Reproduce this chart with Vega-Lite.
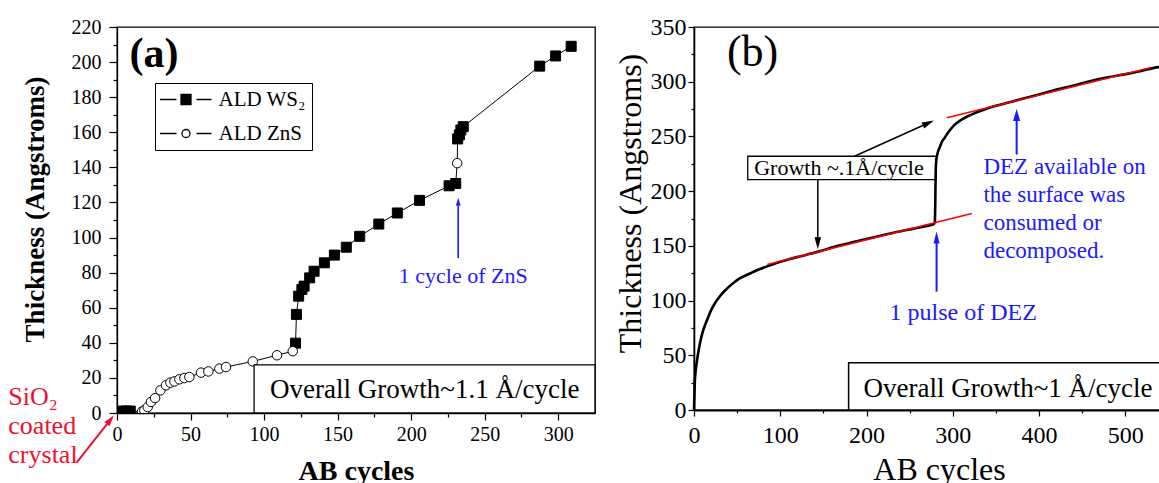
{
  "$schema": "https://vega.github.io/schema/vega-lite/v6.json",
  "background": "white",
  "padding": {"left": 7, "top": 14, "right": 0, "bottom": 0},
  "bounds": "flush",
  "spacing": 99,
  "config": {
    "font": "Liberation Serif",
    "view": {"stroke": "black", "strokeWidth": 1.3},
    "axis": {"domainColor": "black", "tickColor": "black", "labelColor": "black", "titleColor": "black", "grid": false, "labelFont": "Liberation Serif", "titleFont": "Liberation Serif", "labelFlush": false, "labelOverlap": false, "domainWidth": 1.3, "tickWidth": 1.2},
    "text": {"font": "Liberation Serif"}
  },
  "datasets": {
    "blank": [{}],
    "none": [],
    "ab": [
      {"x": 3.5, "y": 1.1, "series": "ALD WS₂"},
      {"x": 6.5, "y": 1.1, "series": "ALD WS₂"},
      {"x": 9, "y": 1.1, "series": "ALD WS₂"},
      {"x": 17, "y": 0.8, "series": "ALD ZnS"},
      {"x": 18.6, "y": 1.5, "series": "ALD ZnS"},
      {"x": 20.9, "y": 3.4, "series": "ALD ZnS"},
      {"x": 23.1, "y": 6.3, "series": "ALD ZnS"},
      {"x": 25.9, "y": 8.5, "series": "ALD ZnS"},
      {"x": 29.5, "y": 12.9, "series": "ALD ZnS"},
      {"x": 33.3, "y": 15.8, "series": "ALD ZnS"},
      {"x": 36.3, "y": 17.3, "series": "ALD ZnS"},
      {"x": 39, "y": 18, "series": "ALD ZnS"},
      {"x": 42.4, "y": 19.2, "series": "ALD ZnS"},
      {"x": 45.8, "y": 19.9, "series": "ALD ZnS"},
      {"x": 49.2, "y": 20.5, "series": "ALD ZnS"},
      {"x": 57.1, "y": 23, "series": "ALD ZnS"},
      {"x": 62.1, "y": 23.7, "series": "ALD ZnS"},
      {"x": 69.6, "y": 25.3, "series": "ALD ZnS"},
      {"x": 74.1, "y": 26.2, "series": "ALD ZnS"},
      {"x": 92.3, "y": 29.4, "series": "ALD ZnS"},
      {"x": 108.8, "y": 32.9, "series": "ALD ZnS"},
      {"x": 119.5, "y": 35.2, "series": "ALD ZnS"},
      {"x": 121.4, "y": 39.8, "series": "ALD WS₂"},
      {"x": 122, "y": 56.2, "series": "ALD WS₂"},
      {"x": 123.5, "y": 66.6, "series": "ALD WS₂"},
      {"x": 125.7, "y": 70.4, "series": "ALD WS₂"},
      {"x": 127.2, "y": 72.3, "series": "ALD WS₂"},
      {"x": 131, "y": 77, "series": "ALD WS₂"},
      {"x": 134, "y": 80.8, "series": "ALD WS₂"},
      {"x": 141, "y": 85.6, "series": "ALD WS₂"},
      {"x": 147.8, "y": 90, "series": "ALD WS₂"},
      {"x": 155.9, "y": 94.5, "series": "ALD WS₂"},
      {"x": 165, "y": 100.7, "series": "ALD WS₂"},
      {"x": 178, "y": 107.7, "series": "ALD WS₂"},
      {"x": 190.6, "y": 114, "series": "ALD WS₂"},
      {"x": 205.7, "y": 121.2, "series": "ALD WS₂"},
      {"x": 225.8, "y": 129.5, "series": "ALD WS₂"},
      {"x": 230.3, "y": 130.8, "series": "ALD WS₂"},
      {"x": 231.3, "y": 142.4, "series": "ALD ZnS"},
      {"x": 231.6, "y": 156.2, "series": "ALD WS₂"},
      {"x": 232.8, "y": 158.5, "series": "ALD WS₂"},
      {"x": 233.8, "y": 161.3, "series": "ALD WS₂"},
      {"x": 235.4, "y": 163.2, "series": "ALD WS₂"},
      {"x": 287.4, "y": 197.7, "series": "ALD WS₂"},
      {"x": 298.2, "y": 203.5, "series": "ALD WS₂"},
      {"x": 308.8, "y": 209, "series": "ALD WS₂"}
    ],
    "curve": [
      {"x": 0, "y": 0}, {"x": 0.9, "y": 25}, {"x": 1.6, "y": 33}, {"x": 2.6, "y": 40.3}, {"x": 4, "y": 48},
      {"x": 5.6, "y": 55.5}, {"x": 7.7, "y": 64}, {"x": 9.9, "y": 70.8}, {"x": 13, "y": 78}, {"x": 16.3, "y": 84.5},
      {"x": 20, "y": 91.5}, {"x": 24.9, "y": 98.3}, {"x": 30, "y": 104}, {"x": 35.7, "y": 109}, {"x": 41, "y": 113},
      {"x": 46.4, "y": 116.6}, {"x": 52, "y": 119.8}, {"x": 59.3, "y": 122.7}, {"x": 67, "y": 125.5}, {"x": 76.5, "y": 128.8},
      {"x": 89, "y": 132.5}, {"x": 100, "y": 135.5}, {"x": 110, "y": 137.8}, {"x": 125, "y": 140.8}, {"x": 143, "y": 144.5},
      {"x": 167, "y": 150}, {"x": 190, "y": 154.5}, {"x": 210, "y": 158}, {"x": 229, "y": 161.5}, {"x": 253, "y": 165.5},
      {"x": 267, "y": 167.8}, {"x": 278, "y": 169.8}, {"x": 279.2, "y": 172}, {"x": 279.7, "y": 190}, {"x": 280.1, "y": 215},
      {"x": 280.7, "y": 227}, {"x": 282, "y": 233.5}, {"x": 284.6, "y": 239.5}, {"x": 287, "y": 244.5}, {"x": 290.4, "y": 248.6},
      {"x": 295, "y": 254}, {"x": 302, "y": 260.5}, {"x": 310, "y": 265.3}, {"x": 317.5, "y": 268.6}, {"x": 327, "y": 271.8},
      {"x": 336.8, "y": 274.7}, {"x": 348, "y": 277.5}, {"x": 360, "y": 280}, {"x": 372, "y": 282.5}, {"x": 383, "y": 284.8},
      {"x": 400, "y": 288.3}, {"x": 421.5, "y": 293}, {"x": 440, "y": 296.5}, {"x": 460, "y": 300.6}, {"x": 480, "y": 304},
      {"x": 499, "y": 306.7}, {"x": 515, "y": 309.3}, {"x": 526, "y": 311.3}, {"x": 538, "y": 313.3}, {"x": 541, "y": 313.6}
    ],
    "fits": [
      {"seg": "lower", "x": 85, "y": 133},
      {"seg": "lower", "x": 322, "y": 179.5},
      {"seg": "upper", "x": 293, "y": 267},
      {"seg": "upper", "x": 530, "y": 313}
    ]
  },
  "hconcat": [
    {
      "width": 478,
      "height": 386,
      "data": {"name": "ab"},
      "resolve": {"axis": {"x": "independent", "y": "independent"}},
      "layer": [
        {
          "mark": {"type": "line", "color": "black", "strokeWidth": 1, "clip": true},
          "encoding": {
            "x": {"field": "x", "type": "quantitative", "scale": {"domain": [0, 325], "nice": false, "zero": false},
                  "axis": {"orient": "bottom", "values": [25, 75, 125, 175, 225, 275], "tickSize": 4, "labels": false, "domain": false, "title": null}},
            "y": {"field": "y", "type": "quantitative", "scale": {"domain": [0, 220], "nice": false, "zero": false},
                  "axis": {"orient": "left", "values": [10, 30, 50, 70, 90, 110, 130, 150, 170, 190, 210], "tickSize": 4, "labels": false, "domain": false, "title": null}}
          }
        },
        {
          "transform": [{"filter": "datum.series == 'ALD WS₂'"}],
          "mark": {"type": "point", "shape": "square", "filled": true, "fill": "black", "stroke": "black", "strokeWidth": 1, "size": 100, "opacity": 1, "clip": true},
          "encoding": {
            "x": {"field": "x", "type": "quantitative",
                  "axis": {"orient": "bottom", "values": [0, 50, 100, 150, 200, 250, 300], "tickSize": 7, "labelFontSize": 20, "labelPadding": 4, "title": "AB cycles", "titleFontSize": 28, "titleFontWeight": "bold", "titlePadding": 13}},
            "y": {"field": "y", "type": "quantitative",
                  "axis": {"orient": "left", "values": [0, 20, 40, 60, 80, 100, 120, 140, 160, 180, 200, 220], "tickSize": 8, "labelFontSize": 20, "labelPadding": 8, "title": "Thickness (Angstroms)", "titleFontSize": 27, "titleFontWeight": "bold", "titlePadding": 22, "titleY": 182}}
          }
        },
        {
          "transform": [{"filter": "datum.series == 'ALD ZnS'"}],
          "mark": {"type": "point", "shape": "circle", "filled": true, "fill": "white", "stroke": "black", "strokeWidth": 1, "size": 90, "opacity": 1, "clip": true},
          "encoding": {
            "x": {"field": "x", "type": "quantitative", "axis": null},
            "y": {"field": "y", "type": "quantitative", "axis": null}
          }
        },
        {
          "data": {"name": "none"},
          "mark": {"type": "point", "filled": true, "stroke": "black", "strokeWidth": 1.2, "size": 100, "opacity": 1},
          "encoding": {
            "shape": {"field": "series", "type": "nominal",
                      "scale": {"domain": ["ALD WS₂", "ALD ZnS"], "range": ["M-5.2,0H-1.9M2.1,0H5.1M-1,-1H1V1H-1Z", "M-5.2,0H-1.9M2.1,0H5.1M0.8,0A0.8,0.8,0,1,1,-0.8,0A0.8,0.8,0,1,1,0.8,0Z"]},
                      "legend": {"orient": "none", "legendX": 38, "legendY": 56, "title": null,
                                "strokeColor": "black", "fillColor": "white", "padding": 6,
                                "symbolSize": 100, "symbolStrokeColor": "black", "symbolStrokeWidth": 1.3,
                                "symbolOffset": 14.5, "labelOffset": 22, "labelFont": "Liberation Serif", "labelFontSize": 21, "labelColor": "black",
                                "rowPadding": 12,
                                "encoding": {"symbols": {"stroke": {"value": "black"}, "strokeWidth": {"value": 1.3}}}}},
            "fill": {"field": "series", "type": "nominal",
                     "scale": {"domain": ["ALD WS₂", "ALD ZnS"], "range": ["black", "white"]},
                     "legend": {"orient": "none", "legendX": 38, "legendY": 56, "title": null,
                                "strokeColor": "black", "fillColor": "white", "padding": 6,
                                "symbolSize": 100, "symbolStrokeColor": "black", "symbolStrokeWidth": 1.3,
                                "symbolOffset": 14.5, "labelOffset": 22, "labelFont": "Liberation Serif", "labelFontSize": 21, "labelColor": "black",
                                "rowPadding": 12,
                                "encoding": {"symbols": {"stroke": {"value": "black"}, "strokeWidth": {"value": 1.3}}}}}
          }
        },
        {
          "data": {"name": "blank"},
          "mark": {"type": "rect", "fill": "white", "stroke": "black", "strokeWidth": 1.3},
          "encoding": {"x": {"datum": 93.2, "axis": null}, "x2": {"datum": 325}, "y": {"datum": 0, "axis": null}, "y2": {"datum": 27.4}}
        },
        {
          "data": {"name": "blank"},
          "mark": {"type": "text", "text": "Overall Growth~1.1 Å/cycle", "align": "left", "baseline": "middle", "fontSize": 27, "color": "black"},
          "encoding": {"x": {"datum": 104.1, "axis": null}, "y": {"datum": 13.3, "axis": null}}
        },
        {
          "data": {"name": "blank"},
          "mark": {"type": "text", "text": "(a)", "align": "center", "baseline": "middle", "fontSize": 42, "fontWeight": "bold", "color": "black"},
          "encoding": {"x": {"datum": 25.2, "axis": null}, "y": {"datum": 204.8, "axis": null}}
        },
        {
          "data": {"name": "blank"},
          "mark": {"type": "text", "text": "1 cycle of ZnS", "align": "center", "baseline": "middle", "fontSize": 22, "color": "#1a1aff"},
          "encoding": {"x": {"datum": 235.4, "axis": null}, "y": {"datum": 78.1, "axis": null}}
        },
        {
          "data": {"name": "blank"},
          "mark": {"type": "rule", "color": "#1a1aff", "strokeWidth": 1.6},
          "encoding": {"x": {"datum": 232, "axis": null}, "y": {"datum": 88.3, "axis": null}, "y2": {"datum": 118}}
        },
        {
          "data": {"name": "blank"},
          "mark": {"type": "point", "shape": "M0,-1L0.6,1L-0.6,1Z", "size": 64, "filled": true, "color": "#1a1aff", "opacity": 1},
          "encoding": {"x": {"datum": 232, "axis": null}, "y": {"datum": 120.4, "axis": null}}
        },
        {
          "data": {"name": "blank"},
          "mark": {"type": "text", "text": ["SiO₂", "coated", "crystal"], "align": "left", "baseline": "top", "fontSize": 26, "lineHeight": 29, "color": "#ee1030"},
          "encoding": {"x": {"datum": -73.9, "axis": null}, "y": {"datum": 16.4, "axis": null}}
        },
        {
          "data": {"name": "blank"},
          "mark": {"type": "rule", "color": "#ee1030", "strokeWidth": 2},
          "encoding": {"x": {"datum": -27.5, "axis": null}, "y": {"datum": -28.3, "axis": null}, "x2": {"datum": -4.5}, "y2": {"datum": -3.9}}
        },
        {
          "data": {"name": "blank"},
          "mark": {"type": "point", "shape": "M0,-1L0.6,1L-0.6,1Z", "size": 121, "angle": 38.4, "filled": true, "color": "#ee1030", "opacity": 1},
          "encoding": {"x": {"datum": -4.5, "axis": null}, "y": {"datum": -3.9, "axis": null}}
        }
      ]
    },
    {
      "width": 490,
      "height": 383,
      "resolve": {"axis": {"x": "independent", "y": "independent"}},
      "layer": [
        {
          "data": {"name": "blank"},
          "mark": {"type": "rect", "fill": "white", "stroke": "black", "strokeWidth": 1.3},
          "encoding": {"x": {"datum": 62.3, "axis": null}, "x2": {"datum": 280.7}, "y": {"datum": 210.5, "axis": null}, "y2": {"datum": 231.9}}
        },
        {
          "data": {"name": "curve"},
          "mark": {"type": "line", "color": "black", "strokeWidth": 2.6, "interpolate": "monotone"},
          "encoding": {
            "x": {"field": "x", "type": "quantitative", "scale": {"domain": [0, 568], "nice": false, "zero": false},
                  "axis": {"orient": "bottom", "values": [50, 150, 250, 350, 450, 550], "tickSize": 3, "labels": false, "domain": false, "title": null}},
            "y": {"field": "y", "type": "quantitative", "scale": {"domain": [0, 350], "nice": false, "zero": false},
                  "axis": {"orient": "left", "values": [25, 75, 125, 175, 225, 275, 325], "tickSize": 3, "labels": false, "domain": false, "title": null}}
          }
        },
        {
          "data": {"name": "fits"},
          "mark": {"type": "line", "color": "#ff0000", "strokeWidth": 1.6},
          "encoding": {
            "x": {"field": "x", "type": "quantitative",
                  "axis": {"orient": "bottom", "values": [0, 100, 200, 300, 400, 500], "tickSize": 6, "labelFontSize": 24, "labelPadding": 7, "title": "AB cycles", "titleFontSize": 32, "titleFontWeight": "normal", "titlePadding": 7, "domainWidth": 2}},
            "y": {"field": "y", "type": "quantitative",
                  "axis": {"orient": "left", "values": [0, 50, 100, 150, 200, 250, 300, 350], "tickSize": 6, "labelFontSize": 24, "labelPadding": 2, "title": "Thickness (Angstroms)", "titleFontSize": 32, "titleFontWeight": "normal", "titlePadding": 3, "domainWidth": 1.6, "titleY": 176}},
            "detail": {"field": "seg", "type": "nominal"}
          }
        },
        {
          "data": {"name": "blank"},
          "mark": {"type": "text", "text": "Growth ~.1Å/cycle", "align": "center", "baseline": "middle", "fontSize": 22, "color": "black"},
          "encoding": {"x": {"datum": 168, "axis": null}, "y": {"datum": 221, "axis": null}}
        },
        {
          "data": {"name": "blank"},
          "mark": {"type": "rule", "color": "black", "strokeWidth": 1.5},
          "encoding": {"x": {"datum": 186, "axis": null}, "y": {"datum": 231.9, "axis": null}, "x2": {"datum": 271.7}, "y2": {"datum": 262.3}}
        },
        {
          "data": {"name": "blank"},
          "mark": {"type": "point", "shape": "M0,-1L0.55,1L-0.55,1Z", "size": 144, "angle": 65.8, "filled": true, "color": "black", "opacity": 1},
          "encoding": {"x": {"datum": 271.7, "axis": null}, "y": {"datum": 262.3, "axis": null}}
        },
        {
          "data": {"name": "blank"},
          "mark": {"type": "rule", "color": "black", "strokeWidth": 1.5},
          "encoding": {"x": {"datum": 143.5, "axis": null}, "y": {"datum": 210.5, "axis": null}, "y2": {"datum": 152.4}}
        },
        {
          "data": {"name": "blank"},
          "mark": {"type": "point", "shape": "M0,-1L0.55,1L-0.55,1Z", "size": 144, "angle": 180, "filled": true, "color": "black", "opacity": 1},
          "encoding": {"x": {"datum": 143.5, "axis": null}, "y": {"datum": 152.4, "axis": null}}
        },
        {
          "data": {"name": "blank"},
          "mark": {"type": "rule", "color": "#1a1aff", "strokeWidth": 2},
          "encoding": {"x": {"datum": 281.2, "axis": null}, "y": {"datum": 108.2, "axis": null}, "y2": {"datum": 157.7}}
        },
        {
          "data": {"name": "blank"},
          "mark": {"type": "point", "shape": "M0,-1L0.5,1L-0.5,1Z", "size": 144, "filled": true, "color": "#1a1aff", "opacity": 1},
          "encoding": {"x": {"datum": 281.2, "axis": null}, "y": {"datum": 157.7, "axis": null}}
        },
        {
          "data": {"name": "blank"},
          "mark": {"type": "rule", "color": "#1a1aff", "strokeWidth": 2},
          "encoding": {"x": {"datum": 374, "axis": null}, "y": {"datum": 233.4, "axis": null}, "y2": {"datum": 269.5}}
        },
        {
          "data": {"name": "blank"},
          "mark": {"type": "point", "shape": "M0,-1L0.6,1L-0.6,1Z", "size": 144, "filled": true, "color": "#1a1aff", "opacity": 1},
          "encoding": {"x": {"datum": 374, "axis": null}, "y": {"datum": 269.5, "axis": null}}
        },
        {
          "data": {"name": "blank"},
          "mark": {"type": "text", "text": "1 pulse of DEZ", "align": "center", "baseline": "middle", "fontSize": 24, "color": "#1a1aff"},
          "encoding": {"x": {"datum": 312, "axis": null}, "y": {"datum": 88.3, "axis": null}}
        },
        {
          "data": {"name": "blank"},
          "mark": {"type": "text", "text": ["DEZ available on", "the surface was", "consumed or", "decomposed."], "align": "left", "baseline": "top", "fontSize": 23, "lineHeight": 27.8, "color": "#1a1aff"},
          "encoding": {"x": {"datum": 335.5, "axis": null}, "y": {"datum": 231.8, "axis": null}}
        },
        {
          "data": {"name": "blank"},
          "mark": {"type": "rect", "fill": "white", "stroke": "black", "strokeWidth": 1.5},
          "encoding": {"x": {"datum": 179.2, "axis": null}, "x2": {"datum": 568}, "y": {"datum": 0, "axis": null}, "y2": {"datum": 43.1}}
        },
        {
          "data": {"name": "blank"},
          "mark": {"type": "text", "text": "Overall Growth~1 Å/cycle", "align": "left", "baseline": "middle", "fontSize": 27, "color": "black"},
          "encoding": {"x": {"datum": 196.4, "axis": null}, "y": {"datum": 19.5, "axis": null}}
        },
        {
          "data": {"name": "blank"},
          "mark": {"type": "text", "text": "(b)", "align": "center", "baseline": "middle", "fontSize": 44, "color": "black"},
          "encoding": {"x": {"datum": 67.9, "axis": null}, "y": {"datum": 326.3, "axis": null}}
        }
      ]
    }
  ]
}
